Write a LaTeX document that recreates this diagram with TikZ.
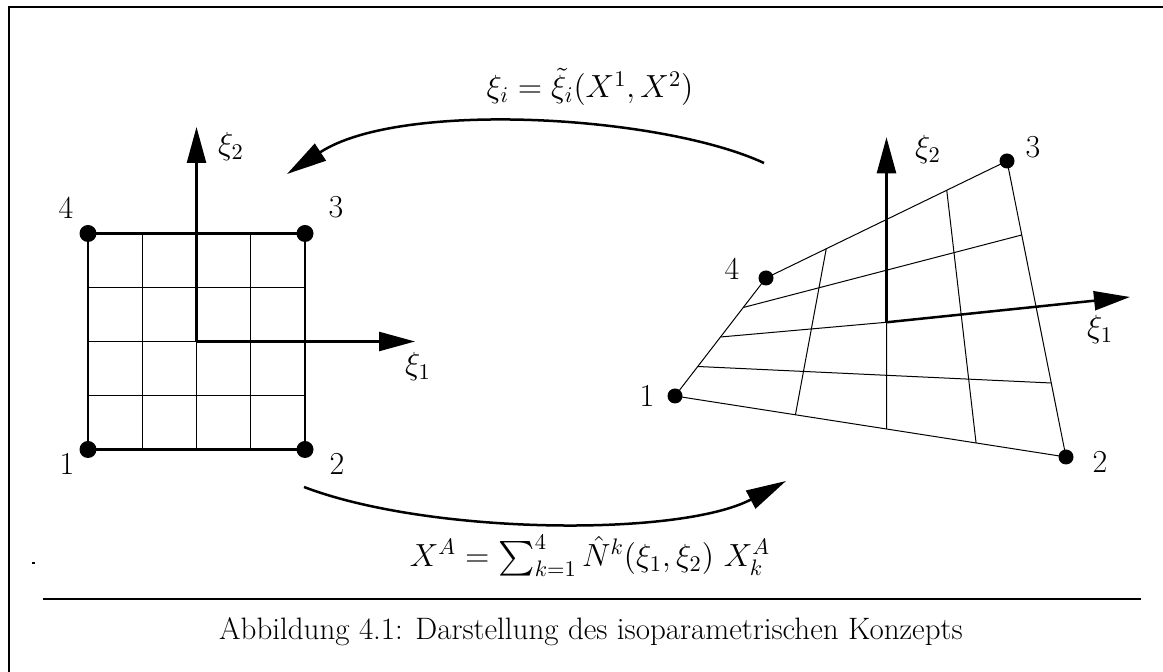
\RequirePackage{fix-cm}
\documentclass[tikz,border=0pt]{standalone}
\usepackage{exscale}
\usetikzlibrary{arrows.meta,calc}
\begin{document}
\begin{tikzpicture}[x=0.5pt,y=-0.5pt,
  font=\fontsize{16}{19}\selectfont,
  thickln/.style={line width=1.25pt},
  thinln/.style={line width=0.5pt},
  framel/.style={line width=1pt},
  axisarrow/.style={line width=1.25pt,-{Triangle[length=18pt,width=9.5pt]}},
  curvearrow/.style={line width=1.25pt,-{Triangle[length=20pt,width=10pt]}},
  bigdot/.style={circle,fill,inner sep=0pt,minimum size=8.5pt},
  smalldot/.style={circle,fill,inner sep=0pt,minimum size=7.5pt},
  lbl/.style={inner sep=0pt}]
\useasboundingbox (0,0) rectangle (1163,672);
% frame
\draw[framel,line join=miter] (1163,7.5) -- (9,7.5) -- (9,672);
\fill (32,562) rectangle (35,564);
% ---------- left square ----------
\node[bigdot] (l1) at (88,449.5) {};
\node[bigdot] (l2) at (305,449.5) {};
\node[bigdot] (l3) at (305,233.5) {};
\node[bigdot] (l4) at (88,233.5) {};
\foreach \x in {142.25,196.5,250.75}
  \draw[thinln] (\x,233.5) -- (\x,449.5);
\foreach \y in {287.5,341.5,395.5}
  \draw[thinln] (88,\y) -- (305,\y);
\draw[thickln] (l1.center) -- (l2.center) -- (l3.center) -- (l4.center) -- cycle;
\coordinate (lc) at (196.5,341.5);
\coordinate (lx) at (415,341.5);
\coordinate (ly) at (196.5,127);
\draw[axisarrow] (lc) -- (lx);
\draw[axisarrow] (lc) -- (ly);
\node[lbl] (lxi2) at (231,147) {$\xi_2$};
\node[lbl] (lxi1) at (418,367) {$\xi_1$};
\node[lbl] (ln4) at (66,208) {4};
\node[lbl] (ln3) at (336,207) {3};
\node[lbl] (ln1) at (67,464) {1};
\node[lbl] (ln2) at (337,464) {2};
% ---------- right element ----------
\node[smalldot] (r1) at (675,396) {};
\node[smalldot] (r2) at (1066,457) {};
\node[smalldot] (r3) at (1007,161) {};
\node[smalldot] (r4) at (766,278) {};
\coordinate (t1) at ($(r4.center)!0.25!(r3.center)$);
\coordinate (t2) at ($(r4.center)!0.5!(r3.center)$);
\coordinate (t3) at ($(r4.center)!0.75!(r3.center)$);
\coordinate (b1) at ($(r1.center)!0.308!(r2.center)$);
\coordinate (b2) at ($(r1.center)!0.541!(r2.center)$);
\coordinate (b3) at ($(r1.center)!0.77!(r2.center)$);
\coordinate (e1) at ($(r4.center)!0.25!(r1.center)$);
\coordinate (e2) at ($(r4.center)!0.5!(r1.center)$);
\coordinate (e3) at ($(r4.center)!0.75!(r1.center)$);
\coordinate (f1) at ($(r3.center)!0.25!(r2.center)$);
\coordinate (f2) at ($(r3.center)!0.5!(r2.center)$);
\coordinate (f3) at ($(r3.center)!0.75!(r2.center)$);
\coordinate (rc) at (intersection of t2--b2 and e2--f2);
\draw[thinln] (r1.center) -- (r2.center) -- (r3.center) -- (r4.center) -- cycle;
\draw[thinln] (t1) -- (b1);
\draw[thinln] (t2) -- (b2);
\draw[thinln] (t3) -- (b3);
\draw[thinln] (e1) -- (f1);
\draw[thinln] (e2) -- (rc);
\draw[thinln] (e3) -- (f3);
\coordinate (rx) at (1130,297);
\coordinate (ry) at ($(rc)+(0,-185)$);
\draw[axisarrow] (rc) -- (rx);
\draw[axisarrow] (rc) -- (ry);
\node[lbl] (rxi2) at (928,150) {$\xi_2$};
\node[lbl] (rxi1) at (1100,330) {$\xi_1$};
\node[lbl] (rn3) at (1033,147) {3};
\node[lbl] (rn4) at (732,269) {4};
\node[lbl] (rn1) at (647,396) {1};
\node[lbl] (rn2) at (1100,462) {2};
% ---------- mapping arrows ----------
\coordinate (ta) at (764,163);
\coordinate (tb) at (287,174);
\draw[curvearrow] (ta) .. controls (660,115) and (400,100) .. (tb);
\coordinate (ba) at (304,487);
\coordinate (bb) at (786,481);
\draw[curvearrow] (ba) .. controls (430,535) and (680,537) .. (bb);
\node[lbl] (ftop) at (590,87) {$\xi_i = \tilde\xi_i(X^1,X^2)$};
\node[lbl] (fbot) at (590,556) {$X^A = \sum_{k=1}^4 \hat N^k(\xi_1,\xi_2)\ X_k^A$};
% ---------- caption ----------
\draw[line width=1.3pt] (43,599) -- (1141,599);
\node[lbl,font=\fontsize{15.5}{18}\selectfont] (cap) at (591,632) {Abbildung 4.1: Darstellung des isoparametrischen Konzepts};
\end{tikzpicture}
\end{document}
